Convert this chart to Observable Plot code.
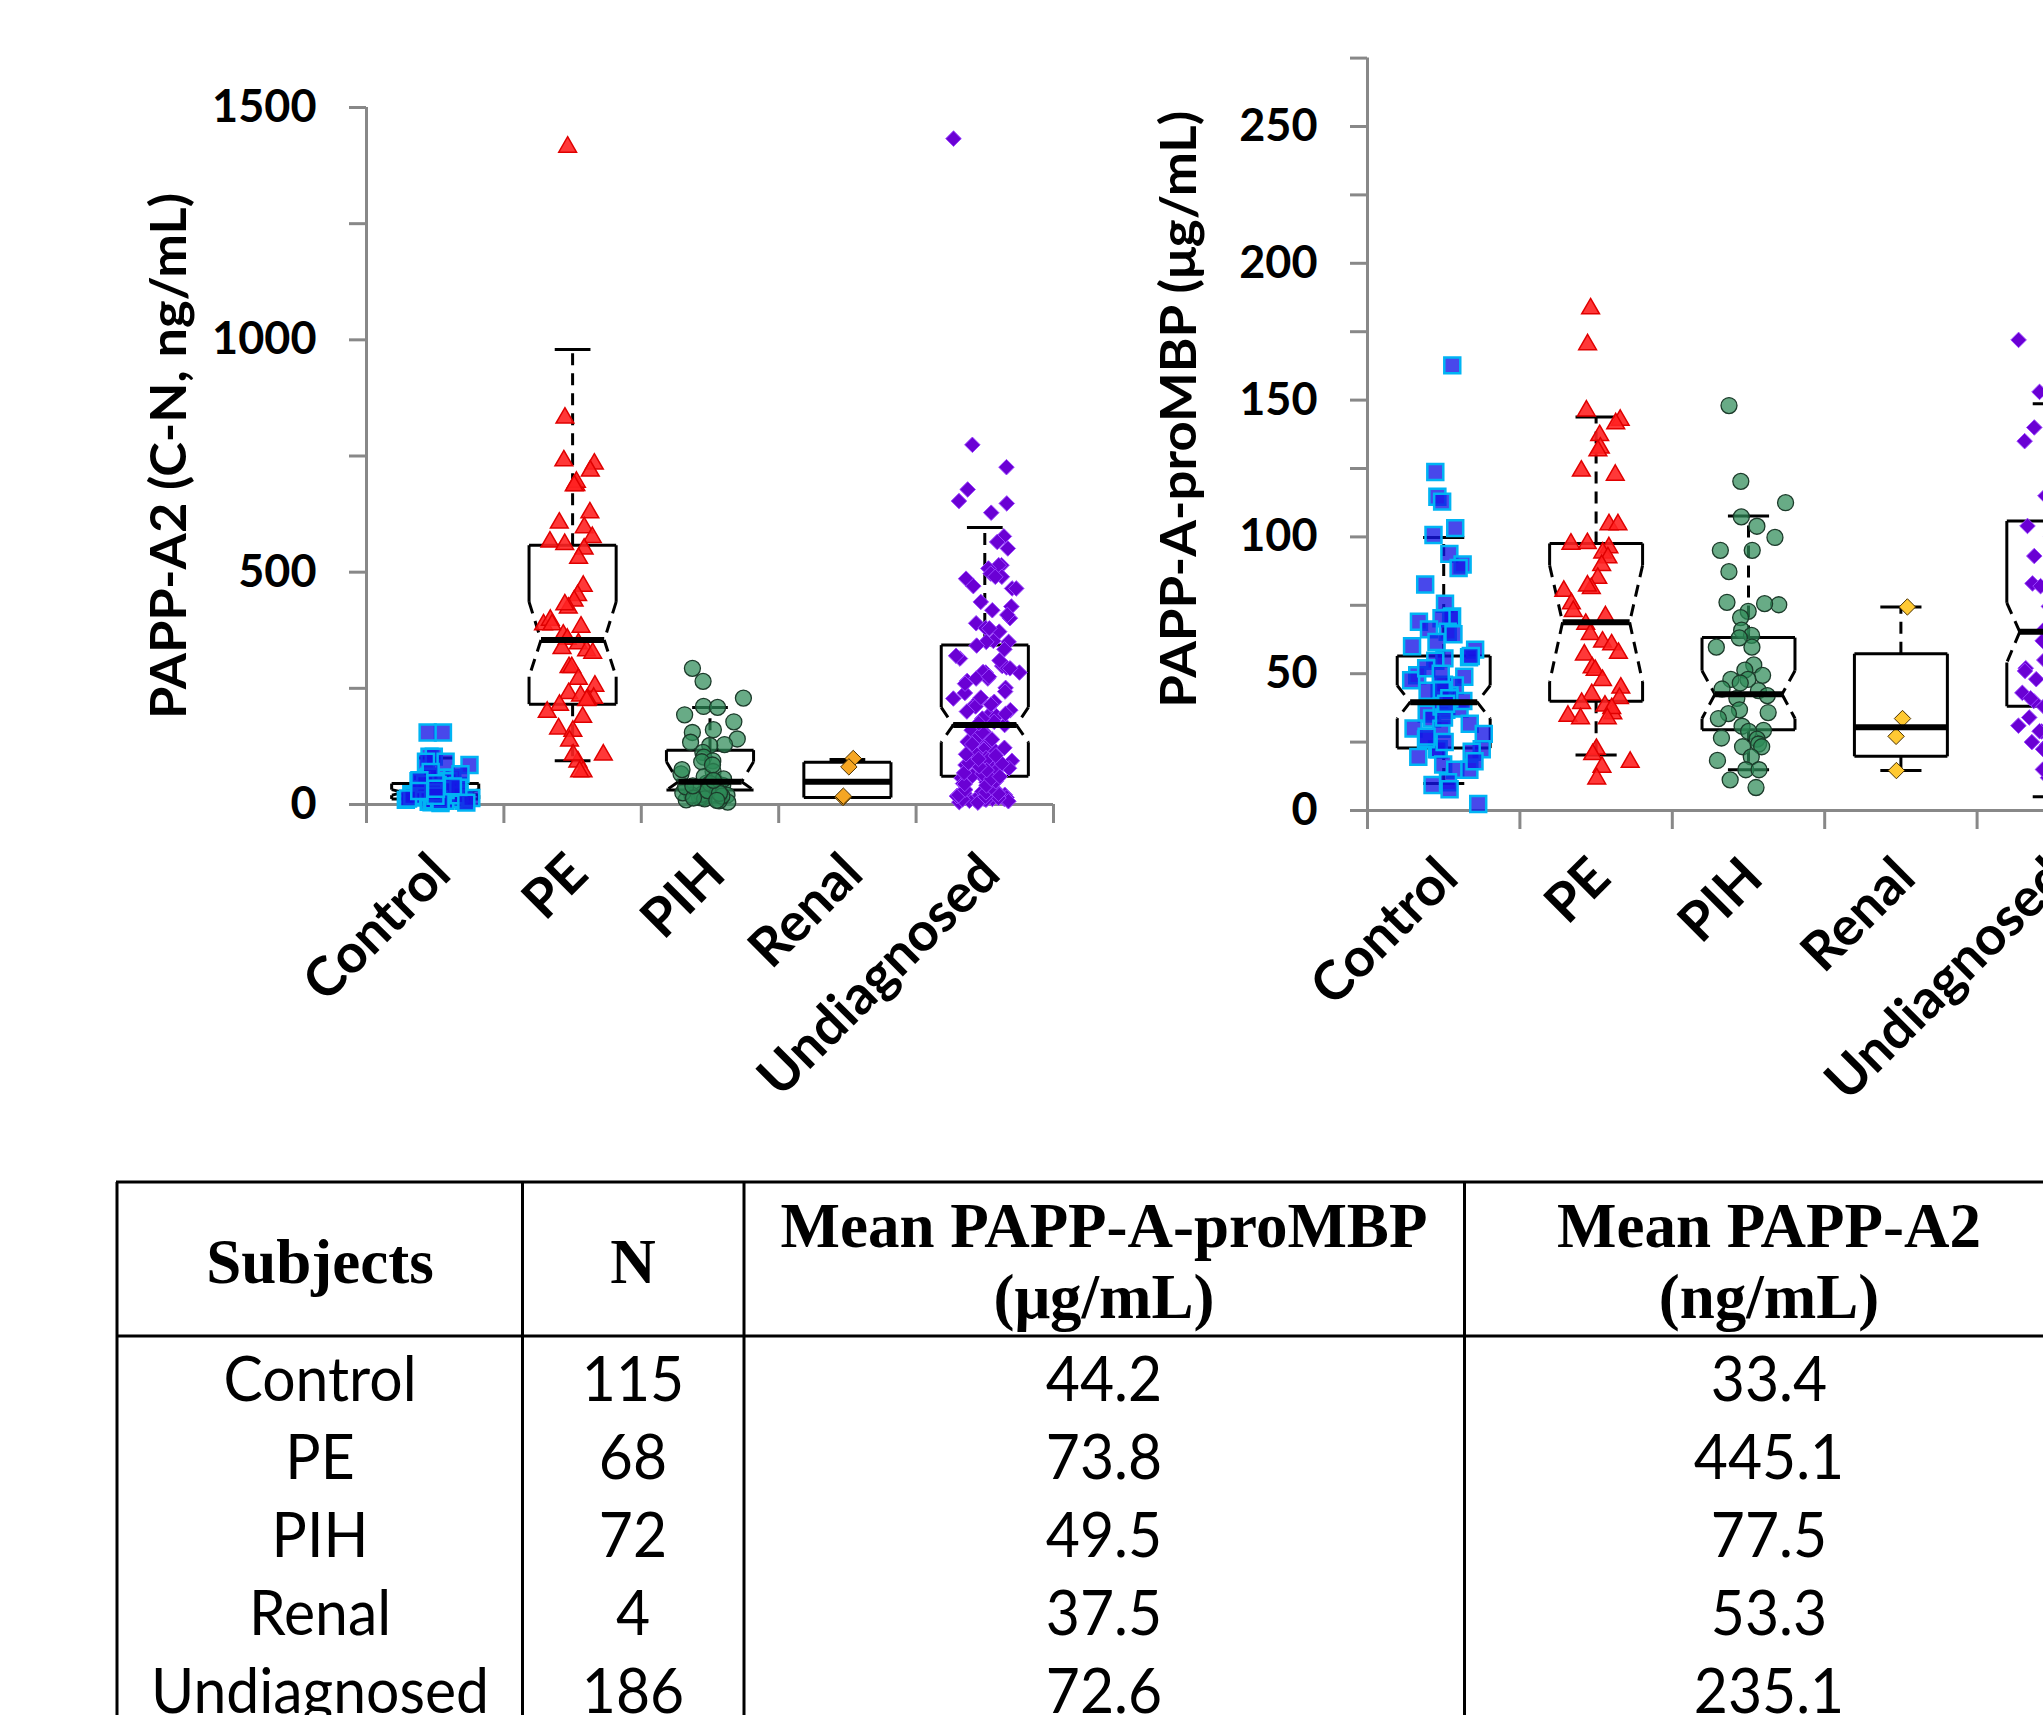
<!DOCTYPE html>
<html><head><meta charset="utf-8">
<script src="https://cdn.jsdelivr.net/npm/d3@7"></script>
<script src="https://cdn.jsdelivr.net/npm/@observablehq/plot@0.6"></script>
<style>
html,body{margin:0;padding:0;background:#fff;width:2043px;height:1715px;overflow:hidden;}
#wrap{position:relative;width:2043px;height:1715px;overflow:hidden;}
.panel{position:absolute;top:0;}
</style></head>
<body><div id="wrap"></div>
<script>
// ---------- DATA ----------
const categories = ["Control", "PE", "PIH", "Renal", "Undiagnosed"];

// PAPP-A2 (C-N, ng/mL) individual values
const controlA2 = [155,155,103,103,92,92,57,57,50,50,35,17,35,21,15,17,28,17,6,8,40,45,30,25,22,12,10,8,5,3,48,42,38,33,27,20,14,9,60,70,85,65,18,24,31,36,44,11,7,4,52,46,39,26,19,13,29,34];
const peA2 = [1415,832,740,733,718,687,694,686,628,606,596,575,565,560,550,530,470,450,438,423,430,387,397,387,382,365,356,346,331,336,326,295,295,270,255,239,229,234,226,224,214,199,188,163,158,137,107,92,107,71,71];
const pihA2 = [293,265,229,211,209,178,193,161,155,134,141,129,127,112,102,94,92,71,66,51,46,41,36,33,15,31,10,20,15,22,5,20,25,60,55,45,38,28,12,8,18,85,75,30,24,14,9,40,52];
const renalA2 = [99,81,15,18];
const undA2 = [1433,774,726,678,653,648,628,577,565,551,515,515,508,497,490,490,486,470,465,465,436,426,418,401,408,390,380,372,379,352,350,350,342,334,314,298,295,284,284,285,293,271,266,271,251,243,228,214,221,225,211,203,193,190,178,168,171,157,150,143,132,135,125,118,114,100,94,96,78,71,78,58,57,53,42,33,39,28,28,12,12,10,12,10,21,5,8,15,18,24,30,35,45,48,62,66,85,88,105,110,140,160,185,200,240,260,310,320,4,7,11,14,17,20,23,26,32,37,41,44,50,55,60,68,74,82,90,98,108,122,130,148,155,175,195,215,230,275];

// PAPP-A-proMBP (µg/mL) individual values
const controlMBP = [162.7,123.7,114.7,112.9,103.2,100.7,93.8,89.9,88.6,82.6,75.6,70.9,70.5,70.3,69,66.2,65.3,64.4,61.6,58.8,56,55.6,54.7,56.5,49.4,48.9,47.6,45.7,42.9,42,43.8,36.8,37.3,35.4,33.6,31.7,28,29.9,22.4,22.4,22.4,21.5,19.6,16.8,14.9,14.9,9.3,10.3,7.8,2.4,52,46,40,38,34,30,26,25,44,50,60,41,39,27,18];
const peMBP = [183.4,170.3,146.1,142.7,141.4,137.1,132.5,131.5,122.6,124.1,104.5,104.5,97.4,97.6,96.1,94.2,92.4,89.6,84.9,81.2,82.1,80.2,75.6,72.8,70.9,68.1,64.4,61.6,60.6,56.9,57.5,52.2,51.3,47.6,44.8,42.4,41,38.2,35.4,37.3,39.2,34.5,33.6,33.6,22.4,20.5,17.7,15.9,11.6];
const pihMBP = [148,120.3,112.5,107.3,103.9,99.8,95.1,95.1,87.3,76.1,75.2,75.6,72.8,70.5,65.9,64,63.1,59.7,59.7,53.2,51.3,49.4,47.9,47.9,46.6,43.8,44.4,42,41,36.8,35.8,35.4,33.6,30.8,29.3,28.9,26.5,26.1,23.3,24.3,23.3,19.6,18.3,14.9,14.9,11.2,8.4];
const renalMBP = [74.4,33.6,27.1,14.6];
const undMBP = [172,153,147.4,140,135,128,123,118,112,108,102.6,98,95,91.4,88,85,83,82,81,78,74.6,72,70,69,67,66,64,63.4,61,60,58.8,57,55,53.2,52,50,49.4,48,46.6,45,44,42,40,38,36,33.6,31,28.9,26,24,22.4,22.4,19,16,14,12,9.3,7,115,125,100,93,86,77,62,56,43,35,30,160,131,110,104,96,90,84,79,75,71,68,65,62,59,56,53,51,48,46,43,41,39,37,34,32,29,27,25,21,18,15,11];

// Box summaries (per category)
const a2Q1 = [12,216,31,15,61];
const a2Median = [26,354,49,49,171];
const a2Q3 = [45,558,117,91,343];
const a2WhiskerLo = [2,94,5,15,5];
const a2WhiskerHi = [100,979,209,97,596];
const a2NotchLo = [20,275,31,null,134];
const a2NotchHi = [32,436,92,null,209];

const mbpQ1 = [22.8,39.9,29.5,19.8,38.1];
const mbpMedian = [39.6,68.8,42.5,30.4,65.3];
const mbpQ3 = [56.5,97.6,63.2,57.3,105.8];
const mbpWhiskerLo = [9.9,20.3,14.9,14.6,5];
const mbpWhiskerHi = [99.8,143.8,107.6,74.4,148.7];
const mbpNotchLo = [33.6,47,33.6,null,54.1];
const mbpNotchHi = [45.7,89.6,51.1,null,75.9];

// Table
const tableN = [115,68,72,4,186];
const tableMeanMBP = [44.2,73.8,49.5,37.5,72.6];
const tableMeanA2 = [33.4,445.1,77.5,53.3,235.1];

// ---------- STYLES ----------
const pointStyles = [
  {symbol:"square", r:9, fill:"#1414e6", fillOpacity:0.78, stroke:"#00b4f4", strokeWidth:2.5, spread:1.15},
  {symbol:"triangle", r:6.6, fill:"#ff2222", fillOpacity:0.9, stroke:"#e00000", strokeWidth:1.5, spread:1},
  {symbol:"circle", r:8, fill:"#2e8b57", fillOpacity:0.72, stroke:"#1c3a2a", strokeWidth:1.3, spread:1},
  {symbol:"diamond2", r:7.4, fill:"#f5a623", fillOpacity:1, stroke:"#4a3000", strokeWidth:1, spread:0.4},
  {symbol:"diamond2", r:7, fill:"#6a00d4", fillOpacity:1, stroke:"#9a45ff", strokeWidth:1, spread:1}
];

function jitter(g, i, spread) {
  const h1 = Math.sin((i + 1) * 12.9898 + (g + 1) * 78.233) * 43758.5453;
  const h2 = Math.sin((i + 1) * 39.3468 + (g + 1) * 11.135) * 24634.6345;
  const u = (h1 - Math.floor(h1)) + (h2 - Math.floor(h2)) - 1;
  return u * spread;
}

function buildChart(o) {
  const pts = [];
  o.series.forEach((vals, g) => vals.forEach((v, i) => pts.push({g, v, x: g + jitter(g, i, o.spread * pointStyles[g].spread)})));
  const W = o.boxHalf, IND = o.notchIndent, CAP = o.capHalf;
  const solid = [], dashed = [], medians = [];
  categories.forEach((c, i) => {
    const q1 = o.box.q1[i], q3 = o.box.q3[i], md = o.box.median[i], nl = o.box.notchLo[i], nh = o.box.notchHi[i];
    const L = i - W, R = i + W;
    solid.push({x1:L,y1:q3,x2:R,y2:q3},{x1:L,y1:q1,x2:R,y2:q1});
    if (nl == null) {
      solid.push({x1:L,y1:q1,x2:L,y2:q3},{x1:R,y1:q1,x2:R,y2:q3});
      medians.push({x1:L,x2:R,y:md});
    } else {
      solid.push({x1:L,y1:q3,x2:L,y2:nh},{x1:R,y1:q3,x2:R,y2:nh},{x1:L,y1:nl,x2:L,y2:q1},{x1:R,y1:nl,x2:R,y2:q1});
      dashed.push({x1:L,y1:nh,x2:L+IND,y2:md},{x1:L+IND,y1:md,x2:L,y2:nl},{x1:R,y1:nh,x2:R-IND,y2:md},{x1:R-IND,y1:md,x2:R,y2:nl});
      medians.push({x1:L+IND,x2:R-IND,y:md});
    }
    const wh = o.box.whiskerHi[i], wl = o.box.whiskerLo[i];
    dashed.push({x1:i,y1:q3,x2:i,y2:wh},{x1:i,y1:q1,x2:i,y2:wl});
    solid.push({x1:i-CAP,y1:wh,x2:i+CAP,y2:wh},{x1:i-CAP,y1:wl,x2:i+CAP,y2:wl});
  });

  const dots = pointStyles.map((st, g) => Plot.dot(pts.filter(p => p.g === g), {
    x:"x", y:"v", symbol:st.symbol, r:st.r,
    fill: g === 3 ? o.renalColor : st.fill, fillOpacity:st.fillOpacity,
    stroke:st.stroke, strokeWidth:st.strokeWidth
  }));
  const boxMarks = [
    Plot.link(solid, {x1:"x1", y1:"y1", x2:"x2", y2:"y2", stroke:"black", strokeWidth:3}),
    Plot.link(dashed, {x1:"x1", y1:"y1", x2:"x2", y2:"y2", stroke:"black", strokeWidth:3, strokeDasharray:"12,8"})
  ];
  // Control box sits beneath its points; other boxes' medians are drawn on top
  const medianMark = Plot.link(medians.slice(1), {x1:"x1", y1:"y", x2:"x2", y2:"y", stroke:"black", strokeWidth:6});
  const controlMedian = Plot.link(medians.slice(0, 1), {x1:"x1", y1:"y", x2:"x2", y2:"y", stroke:"black", strokeWidth:6});

  const plot = Plot.plot({
    width:o.width, height:o.height,
    marginLeft:o.marginLeft, marginRight:o.marginRight, marginTop:o.marginTop, marginBottom:o.marginBottom,
    x:{type:"linear", domain:[-0.5, 4.5], axis:null},
    y:{type:"linear", domain:[0, o.yTop], axis:null},
    style:{background:"transparent", fontFamily:"Lato", overflow:"visible", color:"black"},
    marks:[
      Plot.axisY(o.minorTicks, {tickSize:17, tickFormat:() => "", label:null, stroke:"#888", strokeWidth:3}),
      Plot.axisY(o.labelTicks, {tickSize:0, tickPadding:50, tickFormat:d => String(d), label:null, fontSize:45, fontWeight:"bold", fontFamily:"Lato", fill:"black"}),
      Plot.axisX(d3.range(-0.5, 5, 1), {tickSize:19, tickFormat:() => "", label:null, stroke:"#888", strokeWidth:3}),
      Plot.ruleX([-0.5], {y1:0, y2:o.yTop, stroke:"#888", strokeWidth:3}),
      Plot.ruleY([0], {x1:-0.5, x2:4.5, stroke:"#888", strokeWidth:3}),
      Plot.text(categories, {x:(d, i) => i, text:d => d, frameAnchor:"bottom", rotate:-45, textAnchor:"end", dx:o.catDx, dy:o.catDy, fontSize:54, fontWeight:"bold", fontFamily:"Lato", fill:"black"}),
      Plot.text([o.title], {frameAnchor:"left", rotate:-90, dx:o.titleDx, dy:o.titleDy, fontSize:50, fontWeight:"bold", fontFamily:"Lato, 'Open Sans', sans-serif", fill:"black"}),
      ...(o.controlBoxUnder ? [controlMedian] : []),
      ...boxMarks,
      ...dots,
      ...(o.controlBoxUnder ? [] : [controlMedian]),
      medianMark
    ]
  });
  plot.querySelectorAll("text").forEach(t => {
    if (t.textContent === o.title) {
      t.setAttribute("text-anchor", "start");
      t.setAttribute("x", -o.titleLength / 2);
      t.setAttribute("textLength", o.titleLength);
      t.setAttribute("lengthAdjust", "spacingAndGlyphs");
    }
  });
  return plot;
}

const wrap = document.getElementById("wrap");

const left = buildChart({
  series:[controlA2, peA2, pihA2, renalA2, undA2],
  box:{q1:a2Q1, median:a2Median, q3:a2Q3, whiskerLo:a2WhiskerLo, whiskerHi:a2WhiskerHi, notchLo:a2NotchLo, notchHi:a2NotchHi},
  yTop:1500, minorTicks:d3.range(0, 1501, 250), labelTicks:[0,500,1000,1500],
  width:1100, height:1130, marginLeft:366, marginRight:47, marginTop:107, marginBottom:326,
  spread:0.27, boxHalf:0.317, notchIndent:0.087, capHalf:0.13, controlBoxUnder:true,
  renalColor:"#f5a623", catDx:18, catDy:72,
  title:"PAPP-A2 (C-N, ng/mL)", titleDx:-197, titleDy:0, titleLength:526
});
left.classList.add("panel");
left.style.left = "0px";
wrap.appendChild(left);

const right = buildChart({
  series:[controlMBP, peMBP, pihMBP, renalMBP, undMBP],
  box:{q1:mbpQ1, median:mbpMedian, q3:mbpQ3, whiskerLo:mbpWhiskerLo, whiskerHi:mbpWhiskerHi, notchLo:mbpNotchLo, notchHi:mbpNotchHi},
  yTop:275, minorTicks:d3.range(0, 276, 25), labelTicks:[0,50,100,150,200,250],
  width:1060, height:1130, marginLeft:267, marginRight:31, marginTop:57.6, marginBottom:320,
  spread:0.27, boxHalf:0.305, notchIndent:0.085, capHalf:0.135, controlBoxUnder:false,
  renalColor:"#ffc933", catDx:17, catDy:70,
  title:"PAPP-A-proMBP (\u03bcg/mL)", titleDx:-188, titleDy:-25, titleLength:597
});
right.classList.add("panel");
right.style.left = "1100px";
wrap.appendChild(right);

// ---------- TABLE ----------
const T0 = 1150;
const tsvg = d3.create("svg").attr("width", 2043).attr("height", 1715 - T0)
  .style("position", "absolute").style("left", "0px").style("top", T0 + "px");
const colX = [117, 522.5, 744, 1464.5, 2073];
const colC = [320, 633, 1104, 1769];
const lineY = [1182, 1336];
lineY.forEach(y => tsvg.append("line").attr("x1", 116).attr("x2", 2100).attr("y1", y - T0).attr("y2", y - T0).attr("stroke", "black").attr("stroke-width", 3));
colX.forEach(x => tsvg.append("line").attr("x1", x).attr("x2", x).attr("y1", 1182 - T0).attr("y2", 1715 - T0 + 5).attr("stroke", "black").attr("stroke-width", 3));

function headText(x, y, s) {
  tsvg.append("text").attr("x", x).attr("y", y - T0).attr("text-anchor", "middle")
    .attr("font-family", "'Liberation Serif', 'Times New Roman', serif").attr("font-weight", "bold").attr("font-size", 63).text(s);
}
headText(colC[0], 1283, "Subjects");
headText(colC[1], 1283, "N");
headText(colC[2], 1247, "Mean PAPP-A-proMBP");
headText(colC[2], 1318, "(\u03bcg/mL)");
headText(colC[3], 1247, "Mean PAPP-A2");
headText(colC[3], 1318, "(ng/mL)");

const rowY = [1401, 1479, 1557, 1635, 1713];
function bodyText(x, y, s) {
  tsvg.append("text").attr("transform", `translate(${x},${y - T0}) scale(0.95,1)`).attr("text-anchor", "middle")
    .attr("font-family", "Lato, 'Open Sans', sans-serif").attr("font-size", 62).attr("fill", "black").text(s);
}
categories.forEach((c, i) => {
  bodyText(colC[0], rowY[i], c);
  bodyText(colC[1], rowY[i], String(tableN[i]));
  bodyText(colC[2], rowY[i], tableMeanMBP[i].toFixed(1));
  bodyText(colC[3], rowY[i], tableMeanA2[i].toFixed(1));
});
wrap.appendChild(tsvg.node());
</script>
</body></html>
